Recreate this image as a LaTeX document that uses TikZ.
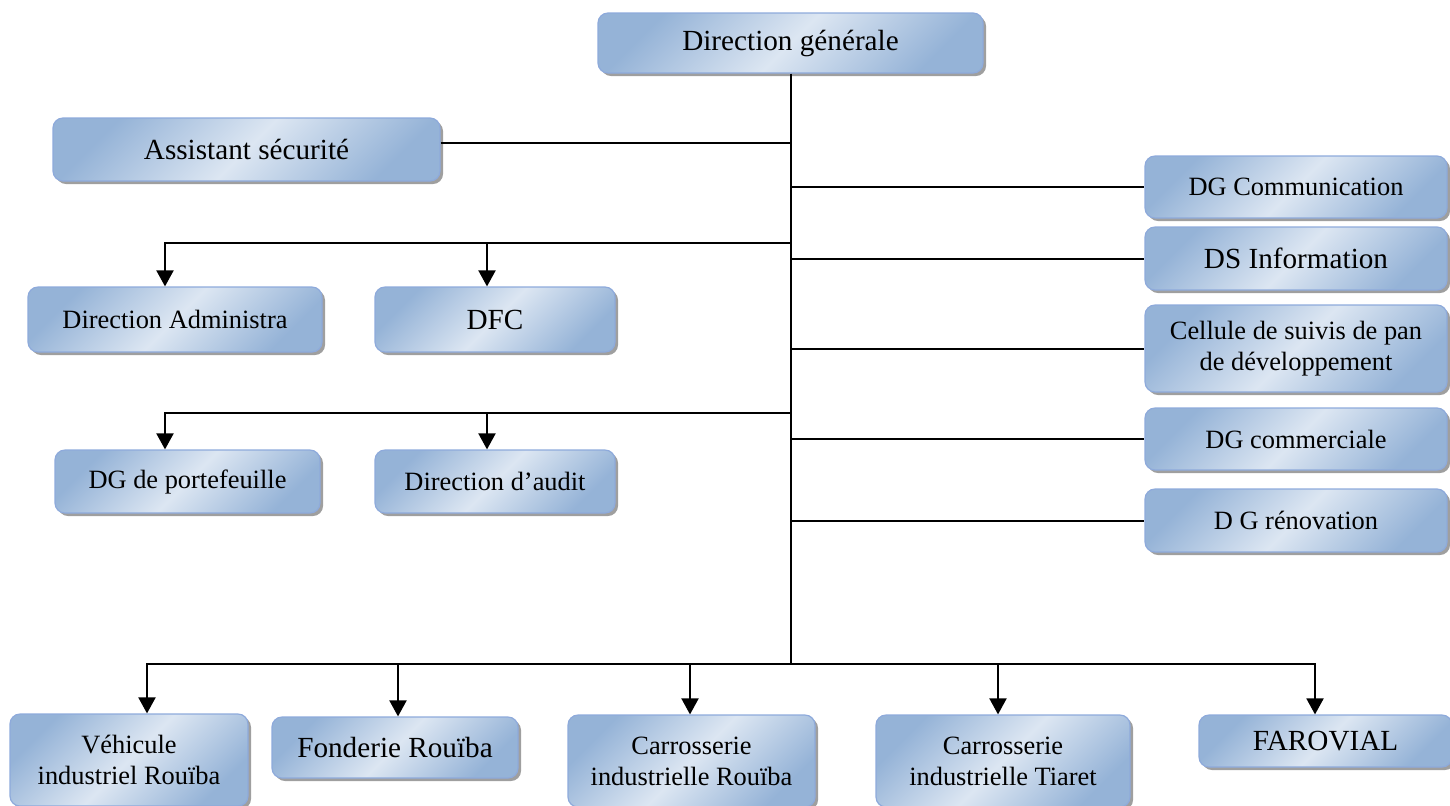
\documentclass[tikz,border=0pt]{standalone}
\usepackage{fontspec}
\setmainfont{Liberation Serif}
\usepackage{tikz}
\usetikzlibrary{positioning,arrows.meta,shadows}
\definecolor{boxdark}{HTML}{95B3D7}
\definecolor{boxlight}{HTML}{DCE6F2}
\definecolor{boxline}{HTML}{8EAADB}

\begin{document}
\begin{tikzpicture}[x=0.5pt, y=-0.5pt, font=\fontsize{13.2}{15.5}\selectfont, >={Triangle[width=8.5pt,length=8pt]}]
\tikzset{unit/.style={draw=boxline, line width=0.6pt, rounded corners=5pt, align=center, inner sep=0pt, left color=boxdark, right color=boxdark, middle color=boxlight, shading angle=45, drop shadow={shadow xshift=1.5pt, shadow yshift=-1.5pt, fill=gray!75, opacity=1}},large/.style={font=\fontsize{14.6}{17}\selectfont},link/.style={line width=1pt},arrow/.style={->, line width=1pt}}
\useasboundingbox (0,0) rectangle (1450,805); \clip (0,0) rectangle (1450,805);
\node[unit, large, minimum width=192.5pt, minimum height=30pt] (dg) at (790.5,43) {Direction générale};
\node[unit, large, minimum width=193.5pt, minimum height=31.5pt] (assist) at (246.5,149.5) {Assistant sécurité};
\node[unit, minimum width=151pt, minimum height=31pt] (comm) at (1296,187) {DG Communication};
\node[unit, large, minimum width=151pt, minimum height=31.5pt] (info) at (1296,258.5) {DS Information};
\node[unit, minimum width=151pt, minimum height=43.5pt] (cell) at (1296,348.5) {Cellule de suivis de pan\\de développement};
\node[unit, minimum width=151pt, minimum height=31pt] (com) at (1296,439) {DG commerciale};
\node[unit, minimum width=151pt, minimum height=31.5pt] (renov) at (1296,520.5) {D G rénovation};
\node[unit, minimum width=147pt, minimum height=32.5pt] (admin) at (175,319.5) {Direction Administra};
\node[unit, large, minimum width=120pt, minimum height=32.5pt] (dfc) at (495,319.5) {DFC};
\node[unit, minimum width=132.5pt, minimum height=31.5pt] (port) at (187.5,481.5) {DG de portefeuille};
\node[unit, minimum width=120pt, minimum height=31.5pt] (audit) at (495,481.5) {Direction d’audit};
\node[unit, minimum width=119pt, minimum height=46pt] (veh) at (129,760) {Véhicule\\industriel Rouïba};
\node[unit, large, minimum width=123pt, minimum height=30.5pt] (fond) at (395,747.5) {Fonderie Rouïba};
\node[unit, minimum width=123.5pt, minimum height=46pt] (carr) at (691.5,761) {Carrosserie\\industrielle Rouïba};
\node[unit, minimum width=127pt, minimum height=46pt] (tiar) at (1003,761) {Carrosserie\\industrielle Tiaret};
\node[unit, large, minimum width=126.5pt, minimum height=26pt] (faro) at (1325.5,741) {FAROVIAL};
\path (dg.south) ++(0,590) coordinate (hub) (dg.south) ++(0,169) coordinate (b1) (dg.south) ++(0,339) coordinate (b2);
\coordinate (adminin) at ([xshift=-5pt]admin.north); \coordinate (dfcin) at ([xshift=-4pt]dfc.north);
\coordinate (portin) at ([xshift=-11.25pt]port.north); \coordinate (auditin) at ([xshift=-4pt]audit.north);
\coordinate (vehin) at ([xshift=9pt]veh.north); \coordinate (fondin) at ([xshift=1.5pt]fond.north); \coordinate (carrin) at ([xshift=-0.75pt]carr.north); \coordinate (tiarin) at ([xshift=-2.5pt]tiar.north); \coordinate (faroin) at ([xshift=-5.25pt]faro.north);
\draw[link] (dg.south) -- (hub); \draw[link] ([yshift=3.25pt]assist.east) coordinate (a1) -- (a1 -| hub);
\foreach \n in {comm,info,cell,com,renov} \draw[link] (hub |- \n.west) -- (\n.west);
\draw[arrow] (b1) -| (adminin); \draw[arrow] (dfcin |- b1) -- (dfcin);
\draw[arrow] (b2) -| (portin); \draw[arrow] (auditin |- b2) -- (auditin);
\draw[arrow] (hub) -| (vehin); \draw[arrow] (hub) -| (faroin);
\foreach \n in {fondin,carrin,tiarin} \draw[arrow] (hub -| \n) -- (\n);
\end{tikzpicture}
\end{document}
